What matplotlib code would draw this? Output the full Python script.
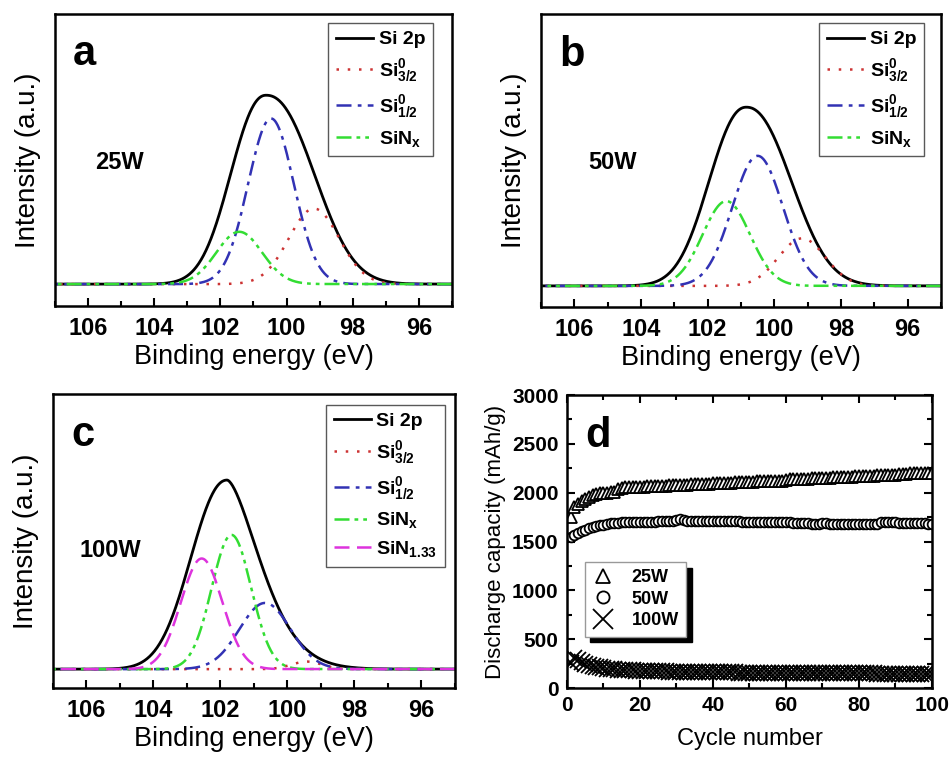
import numpy as np
import matplotlib.pyplot as plt
from matplotlib.ticker import MultipleLocator

plt.rcParams['font.family'] = ['Liberation Sans', 'DejaVu Sans']
plt.rcParams['mathtext.fontset'] = 'custom'
plt.rcParams['mathtext.rm'] = 'Liberation Sans'
plt.rcParams['mathtext.bf'] = 'Liberation Sans:bold'
plt.rcParams['mathtext.default'] = 'bf'

comp_names = ['Si$^{0}_{3/2}$', 'Si$^{0}_{1/2}$', 'SiN$_{x}$', 'SiN$_{1.33}$']

# Si 2p envelope:
# centre (eV), height, half width left / right (eV), edge sharpness left / right
si2p_25w = [100.62, 1.0, 1.20, 1.63, 2.2, 2.25]
si2p_50w = [100.84, 0.94, 1.26, 1.52, 2.2, 2.2]
si2p_100w = [101.80, 1.0, 1.23, 1.13, 2.15, 1.6]

# fitted components: centre (eV), height (a.u.), sigma (eV)
centre_25w = [99.17, 100.47, 101.43]
height_25w = [0.40, 0.877, 0.277]
sigma_25w = [0.76, 0.69, 0.69]

centre_50w = [99.17, 100.50, 101.44]
height_50w = [0.25, 0.684, 0.446]
sigma_50w = [0.70, 0.76, 0.71]

centre_100w = [99.42, 100.67, 101.67, 102.56]
height_100w = [0.04, 0.35, 0.71, 0.585]
sigma_100w = [0.45, 0.76, 0.59, 0.62]

# cycling data (mAh/g)
cycles = list(range(1, 101))
cap_25w = [1750, 1850, 1885, 1915, 1940, 1960, 1975, 1985, 1995, 2000,
           2000, 2005, 2010, 2040, 2050, 2055, 2055, 2058, 2060, 2060,
           2062, 2065, 2065, 2068, 2070, 2070, 2072, 2075, 2075, 2078,
           2080, 2080, 2082, 2085, 2085, 2088, 2090, 2090, 2092, 2095,
           2095, 2098, 2100, 2100, 2102, 2105, 2105, 2108, 2110, 2110,
           2112, 2115, 2115, 2118, 2120, 2120, 2122, 2125, 2125, 2135,
           2138, 2140, 2140, 2142, 2145, 2145, 2148, 2150, 2150, 2152,
           2155, 2155, 2158, 2160, 2160, 2162, 2165, 2165, 2168, 2170,
           2170, 2172, 2175, 2175, 2178, 2180, 2180, 2182, 2185, 2185,
           2188, 2190, 2195, 2200, 2200, 2200, 2200, 2202, 2205, 2205]
cap_50w = [1550, 1570, 1590, 1605, 1620, 1635, 1645, 1655, 1665, 1672,
           1680, 1685, 1690, 1695, 1700, 1702, 1703, 1700, 1698, 1697,
           1700, 1702, 1705, 1705, 1707, 1708, 1710, 1712, 1715, 1725,
           1728, 1722, 1715, 1712, 1710, 1710, 1712, 1710, 1708, 1710,
           1712, 1710, 1708, 1707, 1708, 1710, 1708, 1705, 1705, 1703,
           1702, 1700, 1700, 1698, 1697, 1698, 1700, 1700, 1702, 1700,
           1698, 1695, 1692, 1690, 1688, 1685, 1683, 1682, 1683, 1685,
           1685, 1683, 1682, 1680, 1680, 1678, 1677, 1677, 1678, 1677,
           1676, 1675, 1675, 1676, 1680, 1700, 1705, 1705, 1702, 1700,
           1695, 1692, 1690, 1688, 1687, 1686, 1685, 1685, 1684, 1683]
cap_100w = [260, 310, 285, 262, 248, 236, 226, 218, 211, 205,
            200, 196, 192, 189, 186, 184, 182, 180, 178, 177,
            176, 175, 174, 173, 172, 171, 170, 169, 168, 168,
            167, 166, 166, 165, 165, 164, 164, 163, 163, 162,
            162, 161, 161, 160, 160, 160, 159, 159, 158, 158,
            158, 157, 157, 157, 156, 156, 156, 155, 155, 155,
            154, 154, 154, 153, 153, 153, 153, 152, 152, 152,
            152, 151, 151, 151, 151, 150, 150, 150, 150, 150,
            149, 149, 149, 149, 148, 148, 148, 148, 148, 147,
            147, 147, 147, 147, 146, 146, 146, 146, 146, 145]

colors = ['#cc3333', '#3232b4', '#33dd33', '#dd33dd']
styles = [(0, (1, 3.5)), (0, (6, 2.5, 1.5, 2.5)),
          (0, (6, 2, 1.5, 2, 1.5, 2)), (0, (6, 3))]


def gauss(x, c, h, s):
    return h * np.exp(-(x - c) ** 2 / (2 * s ** 2))


def envelope(x, p):
    c, h, wl, wr, pl, pr = p
    d = x - c
    w = np.where(d > 0, wl, wr)
    k = np.where(d > 0, pl, pr)
    return h * np.exp(-np.log(2) * np.abs(d / w) ** k)


def plot_xps(ax, si2p, centres, heights, sigmas, letter, power, power_xy,
             ylim, leg_anchor):
    x = np.linspace(95, 107, 800)
    ax.plot(x, envelope(x, si2p), color='k', lw=2, label='Si 2p')
    for i, (c, h, s) in enumerate(zip(centres, heights, sigmas)):
        ax.plot(x, gauss(x, c, h, s), color=colors[i], ls=styles[i], lw=1.8,
                label=comp_names[i])
    ax.set_xlim(107, 95)
    ax.set_ylim(*ylim)
    ax.set_yticks([])
    ax.xaxis.set_major_locator(MultipleLocator(2))
    ax.xaxis.set_minor_locator(MultipleLocator(1))
    ax.tick_params(axis='x', which='major', direction='in', length=6, width=1.5,
                   labelsize=17, pad=8)
    ax.tick_params(axis='x', which='minor', direction='in', length=3.5, width=1.5)
    for lab in ax.get_xticklabels():
        lab.set_fontweight('bold')
    for sp in ax.spines.values():
        sp.set_linewidth(1.8)
    ax.set_xlabel('Binding energy (eV)', fontsize=19.5, labelpad=3)
    ax.set_ylabel('Intensity (a.u.)', fontsize=20, labelpad=10)
    ax.text(0.045, 0.93, letter, transform=ax.transAxes, fontsize=30,
            fontweight='bold', va='top', ha='left')
    ax.text(power_xy[0], power_xy[1], power, transform=ax.transAxes, fontsize=17,
            fontweight='bold', va='baseline', ha='left')
    leg = ax.legend(loc='upper right', bbox_to_anchor=leg_anchor, borderaxespad=0,
                    fontsize=14, handlelength=1.9, handletextpad=0.3,
                    labelspacing=0.45, borderpad=0.4, fancybox=False,
                    framealpha=1, edgecolor='0.35')
    leg.get_frame().set_linewidth(1.0)
    for t in leg.get_texts():
        t.set_fontweight('bold')


fig = plt.figure(figsize=(9.51, 7.58), dpi=100)
ax_a = fig.add_axes([0.0578, 0.5963, 0.4175, 0.3852])
ax_b = fig.add_axes([0.5689, 0.5950, 0.4206, 0.3865])
ax_c = fig.add_axes([0.0557, 0.0923, 0.4227, 0.3879])
ax_d = fig.add_axes([0.5962, 0.0923, 0.3838, 0.3865])

plot_xps(ax_a, si2p_25w, centre_25w, height_25w, sigma_25w, 'a', '25W',
         (0.10, 0.47), (-0.116, 1.43), (0.952, 0.969))
plot_xps(ax_b, si2p_50w, centre_50w, height_50w, sigma_50w, 'b', '50W',
         (0.118, 0.47), (-0.111, 1.43), (0.958, 0.969))
plot_xps(ax_c, si2p_100w, centre_100w, height_100w, sigma_100w, 'c', '100W',
         (0.067, 0.445), (-0.10, 1.455), (0.975, 0.963))

# panel d
ax_d.plot(cycles, cap_25w, ls='none', marker='^', ms=8, mfc='white', mec='k',
          mew=1.3, label='25W')
ax_d.plot(cycles, cap_50w, ls='none', marker='o', ms=7, mfc='white', mec='k',
          mew=1.3, label='50W')
ax_d.plot(cycles, cap_100w, ls='none', marker='x', ms=11, mec='k',
          mew=1.3, label='100W')
ax_d.set_xlim(0, 100)
ax_d.set_ylim(0, 3000)
ax_d.xaxis.set_major_locator(MultipleLocator(20))
ax_d.xaxis.set_minor_locator(MultipleLocator(10))
ax_d.yaxis.set_major_locator(MultipleLocator(500))
ax_d.yaxis.set_minor_locator(MultipleLocator(250))
ax_d.tick_params(which='both', direction='in', top=True, right=True, width=1.5)
ax_d.tick_params(which='major', length=6, labelsize=15, pad=6)
ax_d.tick_params(which='minor', length=3.5)
for lab in ax_d.get_xticklabels() + ax_d.get_yticklabels():
    lab.set_fontweight('bold')
for sp in ax_d.spines.values():
    sp.set_linewidth(1.8)
ax_d.set_xlabel('Cycle number', fontsize=17, labelpad=9)
ax_d.set_ylabel('Discharge capacity (mAh/g)', fontsize=16, labelpad=4)
ax_d.text(0.05, 0.93, 'd', transform=ax_d.transAxes, fontsize=30,
          fontweight='bold', va='top', ha='left')
leg_d = ax_d.legend(loc='upper left', bbox_to_anchor=(0.049, 0.43), borderaxespad=0,
                    fontsize=13, markerscale=1.25, handlelength=1.2,
                    handletextpad=1.0, labelspacing=0.25, borderpad=0.4,
                    fancybox=False, framealpha=1, edgecolor='0.6',
                    shadow={'color': 'black', 'alpha': 1, 'ox': 4, 'oy': -4})
for t in leg_d.get_texts():
    t.set_fontweight('bold')

fig.savefig('out.png', dpi=100)
